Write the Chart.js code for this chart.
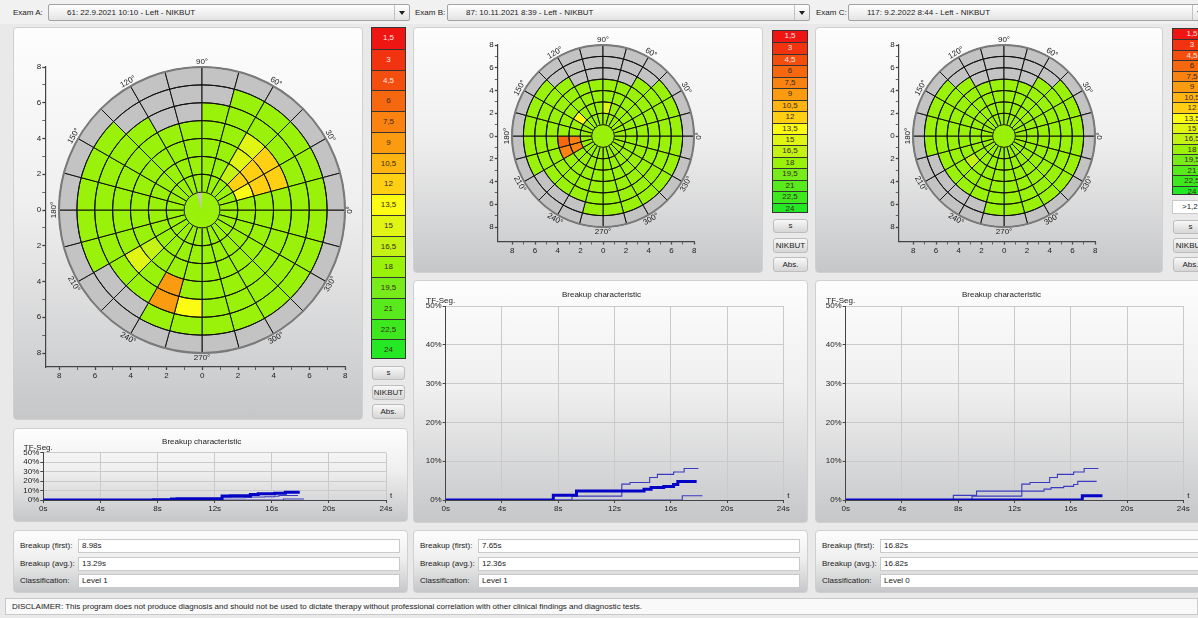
<!DOCTYPE html>
<html>
<head>
<meta charset="utf-8">
<title>Tear film breakup</title>
<script src="https://cdn.jsdelivr.net/npm/chart.js@4.4.1/dist/chart.umd.min.js"></script>
<style>
  html, body { margin: 0; padding: 0; }
  body { position: relative; width: 1198px; height: 618px; overflow: hidden; background: #e9e9e9;
         font-family: "Liberation Sans", Arial, sans-serif; font-size: 8px; color: #1e1e1e; }
  .a { position: absolute; box-sizing: border-box; }
  .topbar { background: #f1f1f1; }
  .txt { white-space: nowrap; line-height: 10px; color: #222; }
  .combo { border: 1px solid #a3a3a3; border-radius: 2px; background: linear-gradient(#fefefe, #e4e4e4); }
  .combo .v { position: absolute; top: 3px; white-space: nowrap; line-height: 10px; color: #1a1a1a; }
  .combo .btn { position: absolute; top: 0; right: 0; width: 14px; height: 15px; border-left: 1px solid #c2c2c2; }
  .combo .btn::after { content: ""; position: absolute; left: 4px; top: 6px; border-left: 3px solid transparent;
         border-right: 3px solid transparent; border-top: 4px solid #1e1e1e; }
  .panel { border: 1px solid #d0d0d0; border-radius: 4px;
         background: linear-gradient(#fdfdfd 0%, #efefef 45%, #c6c7c9 100%); }
  .scale { border: 1px solid #353535; overflow: hidden; }
  .cell { width: 100%; text-align: center; box-sizing: border-box; border-top: 1px solid #353535; white-space: nowrap; }
  .cell:first-child { border-top: none; }
  .button { border: 1px solid #bdbdbd; border-radius: 3px; background: linear-gradient(#f8f8f8, #d6d6d6);
         text-align: center; white-space: nowrap; overflow: hidden; color: #222; }
  .field { border: 1px solid #c9c9c9; background: #fff; padding-left: 3px; line-height: 12px; white-space: nowrap; color: #222; }
  canvas { position: absolute; }
</style>
</head>
<body>
<script>
// ---------- colour scale: breakup time in seconds ----------
const scaleValues = [1.5, 3, 4.5, 6, 7.5, 9, 10.5, 12, 13.5, 15, 16.5, 18, 19.5, 21, 22.5, 24];
const scaleLabels = ['1,5', '3', '4,5', '6', '7,5', '9', '10,5', '12', '13,5', '15', '16,5', '18', '19,5', '21', '22,5', '24'];
const scaleColors = ['#ee1512', '#f1330f', '#f44e0e', '#f6680f', '#f98210', '#fb9b10', '#feb512', '#ffcf14',
                     '#fbfb14', '#e0f514', '#c4f214', '#9af20a', '#78ec1a', '#58ea1c', '#3ee81e', '#24e824'];
const noDataColor = '#c3c3c3';

// ---------- exams ----------
const examNames = ['Exam A:', 'Exam B:', 'Exam C:'];
const examTitles = ['61: 22.9.2021 10:10 - Left - NIKBUT', '87: 10.11.2021 8:39 - Left - NIKBUT', '117: 9.2.2022 8:44 - Left - NIKBUT'];
const breakupFirst = ['8.98s', '7.65s', '16.82s'];
const breakupAvg = ['13.29s', '12.36s', '16.82s'];
const classification = ['Level 1', 'Level 1', 'Level 0'];
const statNames = ['Breakup (first):', 'Breakup (avg.):', 'Classification:'];

// polar sectors, 15° each, counter-clockwise from 0°
const sectorLabels = ['0°', '15°', '30°', '45°', '60°', '75°', '90°', '105°', '120°', '135°', '150°', '165°',
                      '180°', '195°', '210°', '225°', '240°', '255°', '270°', '285°', '300°', '315°', '330°', '345°'];
const angleTicks = [0, 30, 60, 90, 120, 150, 180, 210, 240, 270, 300, 330];
const axisTicks = [-8, -7, -6, -5, -4, -3, -2, -1, 0, 1, 2, 3, 4, 5, 6, 7, 8];

// breakup time per cell (s); null = not measured. centre disc, then rings 1-2 ... 7-8
const aCenter = [18, 18, 18, 18, 18, 18, null, 18, 18, 18, 18, 18, 18, 18, 18, 18, 18, 18, 18, 18, 18, 18, 18, 18];
const aRing2  = [18, 18, 18, 18, 18, 18, 18, 18, 18, 18, 18, 18, 18, 18, 18, 18, 18, 18, 18, 18, 18, 18, 18, 18];
const aRing3  = [18, 13.5, 12, 16.5, 18, 18, 18, 18, 18, 18, 18, 18, 18, 18, 18, 18, 18, 18, 18, 18, 18, 18, 18, 18];
const aRing4  = [18, 12, 12, 15, 18, 18, 18, 18, 18, 18, 18, 18, 18, 18, 16.5, 18, 18, 18, 18, 18, 18, 18, 18, 18];
const aRing5  = [18, 12, 12, 15, 18, 18, 18, 18, 18, 18, 18, 18, 18, 18, 15, 18, 9, 18, 18, 18, 18, 18, 18, 18];
const aRing6  = [18, 18, 18, 18, 18, 18, null, null, 18, 18, 18, 18, 18, 18, 18, 18, 9, 13.5, 18, 18, 18, 18, 18, 18];
const aRing7  = [18, 18, 18, 18, 18, null, null, null, null, 18, 18, 18, 18, 18, null, null, 18, 18, 18, 18, 18, 18, 18, 18];

const bCenter = [18, 18, 18, 18, 18, 18, 18, 18, 18, 18, 18, 18, 18, 18, 18, 18, 18, 18, 18, 18, 18, 18, 18, 18];
const bRing2  = [18, 18, 18, 18, 18, 18, 18, 18, 18, 18, 18, 18, 18, 18, 18, 18, 18, 18, 18, 18, 18, 18, 18, 18];
const bRing3  = [18, 18, 18, 18, 18, 15, 18, 18, 18, 13.5, 18, 18, 7.5, 7.5, 18, 18, 18, 18, 18, 18, 18, 18, 18, 18];
const bRing4  = [18, 18, 18, 18, 18, 18, 18, 18, 18, 18, 18, 18, 6, 7.5, 18, 18, 18, 18, 18, 18, 18, 18, 18, 18];
const bRing5  = [18, 18, 18, 18, 18, 18, 18, 18, 18, 18, 18, 18, 18, 18, 18, 18, 18, 18, 18, 18, 18, 18, 18, 18];
const bRing6  = [18, 18, 18, 18, null, null, null, null, 18, 18, 18, 18, 18, 18, 18, 18, 18, 18, 18, 18, 18, 18, 18, 18];
const bRing7  = [18, 18, 18, null, null, null, null, null, null, 18, 18, 18, 18, 18, null, null, null, 18, 18, 18, 18, 18, 18, 18];

const cCenter = [18, 18, 18, 18, 18, 18, 18, 18, 18, 18, 18, 18, 18, 18, 18, 18, 18, 18, 18, 18, 18, 18, 18, 18];
const cRing2  = [18, 18, 18, 18, 18, 18, 18, 18, 18, 18, 18, 18, 18, 18, 18, 18, 18, 18, 18, 18, 18, 18, 18, 18];
const cRing3  = [18, 18, 18, 18, 18, 18, 18, 18, 18, 18, 18, 18, 18, 18, 18, 18, 18, 18, 18, 18, 18, 18, 18, 18];
const cRing4  = [18, 18, 18, 18, 18, 18, 18, 18, 18, 18, 18, 18, 18, 18, 16.5, 18, 18, 18, 18, 18, 18, 18, 18, 18];
const cRing5  = [18, 18, 18, 18, 18, 18, 18, 18, 18, 18, 18, 18, 18, 18, 18, 18, 18, 18, 18, 18, 18, 18, 18, 18];
const cRing6  = [18, 18, 18, 18, null, null, null, null, 18, 18, 18, 18, 18, 18, 18, 18, 18, 18, 18, 18, 18, 18, 18, 18];
const cRing7  = [18, 18, 18, null, null, null, null, null, null, 18, 18, 18, 18, null, null, null, null, 18, 18, 18, 18, 18, 18, 18];

const outerRing = [null, null, null, null, null, null, null, null, null, null, null, null,
                   null, null, null, null, null, null, null, null, null, null, null, null];

// breakup characteristic: time (s) and share of broken-up segments (%)
const tA = [0, 8.98, 12.52, 13.1, 14.5, 15.05, 16.2, 16.95, 17.96];
const yA = [0, 1.0, 4.1, 4.5, 5.8, 6.6, 7.2, 8.1, 8.1];
const tB = [0, 7.65, 9.3, 14.1, 14.6, 15.5, 16.2, 16.5, 17.84];
const yB = [0, 1.2, 2.3, 2.8, 3.2, 3.5, 4.0, 4.8, 4.8];
const tC = [0, 16.82, 18.25];
const yC = [0, 1.1, 1.1];

const polarRings = [
  [aCenter, aRing2, aRing3, aRing4, aRing5, aRing6, aRing7, outerRing],
  [bCenter, bRing2, bRing3, bRing4, bRing5, bRing6, bRing7, outerRing],
  [cCenter, cRing2, cRing3, cRing4, cRing5, cRing6, cRing7, outerRing],
];
const curves = [[tA, yA], [tB, yB], [tC, yC]];

// ---------- layout ----------
const polarGeo = [
  {cx: 202.3, cy: 210, R: 143, gap: 14},
  {cx: 603.3, cy: 136, R: 91, gap: 14.5},
  {cx: 1004.3, cy: 136, R: 91, gap: 14.5},
];
const breakupGeo = [
  {pl: 13, pt: 428, pw: 395, ph: 94, aL: 43.3, aR: 386, aT: 452.7, aB: 500, titleY: 441.7},
  {pl: 413, pt: 280, pw: 395, ph: 243, aL: 445.7, aR: 783.3, aT: 306, aB: 500, titleY: 295},
  {pl: 815, pt: 280, pw: 383, ph: 243, aL: 845.7, aR: 1183.3, aT: 306, aB: 500, titleY: 295},
];

Chart.defaults.font.family = '"Liberation Sans", Arial, sans-serif';
Chart.defaults.font.size = 8;
Chart.defaults.color = '#222';

function addEl(cls, l, t, w, h, text) {
  const d = document.createElement('div');
  d.className = 'a ' + cls;
  Object.assign(d.style, {left: l + 'px', top: t + 'px', width: w + 'px', height: h + 'px'});
  if (text != null) d.textContent = text;
  document.body.appendChild(d);
  return d;
}
function addCanvas(l, t, w, h) {
  const c = document.createElement('canvas');
  c.width = w; c.height = h;
  Object.assign(c.style, {left: l + 'px', top: t + 'px', width: w + 'px', height: h + 'px'});
  document.body.appendChild(c);
  return c;
}
function colorOf(v) {
  if (v == null) return noDataColor;
  let best = 0;
  scaleValues.forEach((s, i) => { if (Math.abs(s - v) < Math.abs(scaleValues[best] - v)) best = i; });
  return scaleColors[best];
}

// ---------- header bar ----------
addEl('topbar', 0, 0, 1198, 24);
const comboGeo = [[13, 48, 362], [415, 447, 363], [816, 848, 360]];
comboGeo.forEach(([lx, cx, cw], i) => {
  addEl('txt', lx, 8, 34, 10, examNames[i]);
  const c = addEl('combo', cx, 4, cw, 17);
  const v = document.createElement('span'); v.className = 'v'; v.style.left = '18px'; v.textContent = examTitles[i];
  c.appendChild(v);
  const b = document.createElement('span'); b.className = 'btn'; c.appendChild(b);
});

// ---------- panels ----------
addEl('panel', 13, 27, 350, 393);
addEl('panel', 413, 27, 350, 246);
addEl('panel', 815, 27, 348, 246);
breakupGeo.forEach((g) => addEl('panel', g.pl, g.pt, g.pw + (g.pl > 800 ? 10 : 0), g.ph));

// colour legends and buttons
function addScale(l, t, w, cellH) {
  const box = addEl('scale', l, t, w, cellH * 16);
  scaleLabels.forEach((lab, i) => {
    const c = document.createElement('div');
    c.className = 'cell';
    c.style.height = cellH + 'px';
    c.style.lineHeight = (cellH - 1) + 'px';
    c.style.background = scaleColors[i];
    c.style.color = i < 3 ? '#ffe4e0' : '#3a2a10';
    c.textContent = lab;
    box.appendChild(c);
  });
}
addScale(371, 27, 35, 20.75);
addScale(772, 30, 36, 11.45);
addScale(1172, 28, 40, 10.45);
function addButton(l, t, w, h, text) {
  const b = addEl('button', l, t, w, h, text);
  b.style.lineHeight = (h - 2) + 'px';
}
addButton(372, 366, 33, 14, 's'); addButton(372, 385, 33, 15, 'NIKBUT'); addButton(372, 404, 33, 15, 'Abs.');
addButton(773, 219, 35, 14, 's'); addButton(773, 238, 35, 15, 'NIKBUT'); addButton(773, 257, 35, 15, 'Abs.');
const thr = addEl('field', 1172, 200, 40, 14, '>1,2'); thr.style.paddingLeft = '9px';
addButton(1173, 220, 35, 14, 's'); addButton(1173, 238, 35, 15, 'NIKBUT'); addButton(1173, 257, 35, 15, 'Abs.');

// ---------- statistics ----------
const statLeft = [13, 413, 815];
const statVals = [breakupFirst, breakupAvg, classification];
statLeft.forEach((pl, i) => {
  addEl('panel', pl, 530, i === 2 ? 400 : 395, 63);
  statNames.forEach((n, r) => {
    addEl('txt', pl + 7, 541 + r * 17.5, 58, 10, n);
    addEl('field', pl + 65, 539 + r * 17.5, (i === 2 ? 400 : 395) - 73, 14, statVals[r][i]);
  });
});
const disc = addEl('field', 5, 598, 1193, 17,
  'DISCLAIMER: This program does not produce diagnosis and should not be used to dictate therapy without professional correlation with other clinical findings and diagnostic tests.');
disc.style.lineHeight = '15px'; disc.style.paddingLeft = '6px'; disc.style.background = '#f9f9f9';

// ---------- polar maps ----------
const angleLabelPlugin = {
  id: 'angleLabels',
  afterDraw(chart) {
    const s = chart.scales.r;
    const ctx = chart.ctx;
    const rr = s.getDistanceFromCenterForValue(8) + 5;
    ctx.save();
    ctx.font = '8px "Liberation Sans", Arial, sans-serif';
    ctx.fillStyle = '#222';
    ctx.textAlign = 'center';
    ctx.textBaseline = 'middle';
    angleTicks.forEach((a) => {
      const rad = a * Math.PI / 180;
      const x = s.xCenter + Math.cos(rad) * rr;
      const y = s.yCenter - Math.sin(rad) * rr;
      let rot;
      if (a % 180 === 0) rot = -90;
      else if (a < 180) rot = 90 - a;
      else rot = 270 - a;
      ctx.save();
      ctx.translate(x, y);
      ctx.rotate(rot * Math.PI / 180);
      ctx.fillText(a + '°', 0, 0);
      ctx.restore();
    });
    ctx.restore();
  }
};

function buildPolarAxes(g) {
  const unit = g.R / 8;
  const axW = 20, axH = 15, padT = 8, padR = 10;
  const aL = g.cx - g.R - g.gap, aR = g.cx + g.R;
  const aT = g.cy - g.R, aB = g.cy + g.R + g.gap;
  const cL = Math.floor(aL - axW), cT = Math.floor(aT - padT);
  const w = Math.ceil(aR + padR - cL), h = Math.ceil(aB + axH - cT);
  const canvas = addCanvas(cL, cT, w, h);
  const lo = -8 - g.gap / unit;
  const axisOpts = (pos, size) => ({
    type: 'linear', position: pos, min: lo, max: 8,
    afterBuildTicks: (s) => { s.ticks = axisTicks.map((v) => ({value: v})); },
    afterFit: (s) => { if (pos === 'left') s.width = size; else s.height = size; },
    ticks: {autoSkip: false, maxRotation: 0, padding: 1, color: '#222',
            callback: (v) => (v % 2 === 0 ? String(Math.abs(v)) : '')},
    grid: {drawOnChartArea: false, tickLength: 3, tickColor: '#444',
           tickWidth: (c) => (c.tick && c.tick.value % 2 === 0 ? 1.3 : 0.8)},
    border: {color: '#444', width: 1.2},
  });
  const chart = new Chart(canvas, {
    type: 'scatter',
    data: {datasets: []},
    options: {
      responsive: false, animation: false, events: [],
      layout: {padding: {left: aL - axW - cL, top: aT - cT, right: cL + w - aR, bottom: cT + h - aB - axH}},
      plugins: {legend: {display: false}, tooltip: {enabled: false}},
      scales: {x: axisOpts('bottom', axH), y: axisOpts('left', axW)},
    },
  });
  return {chart, cL, cT};
}

function buildPolar(e, ax) {
  const xs = ax.chart.scales.x, ys = ax.chart.scales.y;
  const cx = ax.cL + xs.getPixelForValue(0), cy = ax.cT + ys.getPixelForValue(0);
  const R = xs.getPixelForValue(8) - xs.getPixelForValue(0);
  const half = Math.ceil(R * 1.15);
  const rMax = 8 * half / R;
  const canvas = addCanvas(Math.round(cx - half), Math.round(cy - half), 2 * half, 2 * half);
  // dataset 0 is the centre disc (drawn last, on top); dataset k reaches radius k+1
  const datasets = polarRings[e].map((arr, k) => {
    const cw = sectorLabels.map((_, i) => colorOf(arr[23 - i]));
    return {
      data: sectorLabels.map(() => k + 1),
      backgroundColor: cw,
      borderColor: k === 0 ? cw : '#111111',
      borderWidth: 1,
    };
  });
  const isOuter = (c) => c.tick && Math.abs(c.tick.value - 8) < 0.01;
  new Chart(canvas, {
    type: 'polarArea',
    data: {labels: sectorLabels, datasets},
    options: {
      responsive: false, animation: false, events: [],
      layout: {padding: 0},
      plugins: {legend: {display: false}, tooltip: {enabled: false}},
      scales: {
        r: {
          min: 0, max: rMax, startAngle: 90,
          ticks: {display: false, stepSize: 1},
          angleLines: {display: false},
          pointLabels: {display: false},
          grid: {
            z: 1, circular: true,
            color: (c) => (c.tick && c.tick.value > 8.01 ? 'rgba(0,0,0,0)' : (isOuter(c) ? '#7a7a7a' : '#111111')),
            lineWidth: (c) => (isOuter(c) ? 2 : 1),
          },
        },
      },
    },
    plugins: [angleLabelPlugin],
  });
}

polarGeo.forEach((g, e) => buildPolar(e, buildPolarAxes(g)));

// ---------- breakup characteristic ----------
const axisNotePlugin = {
  id: 'axisNotes',
  afterDraw(chart) {
    const ctx = chart.ctx, a = chart.chartArea;
    ctx.save();
    ctx.font = '8px "Liberation Sans", Arial, sans-serif';
    ctx.fillStyle = '#222';
    ctx.textAlign = 'center';
    ctx.textBaseline = 'alphabetic';
    ctx.fillText('TF-Seg.', a.left - 5, a.top - 3);
    ctx.textAlign = 'left';
    ctx.textBaseline = 'middle';
    ctx.fillText('t', a.right + 4, a.bottom - 4);
    ctx.restore();
  }
};

function buildBreakup(i) {
  const g = breakupGeo[i];
  const yW = 26, xH = 16, th = 9.6;
  const canvas = addCanvas(g.pl, g.pt, g.pw, g.ph);
  const datasets = curves.map(([ts, vs], j) => ({
    data: ts.map((t, n) => ({x: t, y: vs[n]})),
    borderColor: j === i ? '#0404c6' : '#3b3bbf',
    borderWidth: j === i ? 3 : 1.1,
    stepped: true,
    pointRadius: 0,
    fill: false,
    order: j === i ? 0 : 1,
  }));
  const gridOpts = {color: '#cacaca', tickLength: 3, tickColor: '#444'};
  new Chart(canvas, {
    type: 'line',
    data: {datasets},
    options: {
      responsive: false, animation: false, events: [],
      layout: {padding: {left: g.aL - g.pl - yW, right: g.pl + g.pw - g.aR,
                         top: g.titleY - g.pt - th / 2, bottom: g.pt + g.ph - g.aB - xH}},
      plugins: {
        legend: {display: false}, tooltip: {enabled: false},
        title: {display: true, text: 'Breakup characteristic', color: '#222',
                font: {size: 8, weight: 'normal'}, padding: {top: 0, bottom: g.aT - g.titleY - th / 2}},
      },
      scales: {
        x: {type: 'linear', min: 0, max: 24, afterFit: (s) => { s.height = xH; },
            ticks: {stepSize: 4, autoSkip: false, maxRotation: 0, padding: 1, callback: (v) => v + 's'},
            grid: gridOpts, border: {color: '#444'}},
        y: {type: 'linear', min: 0, max: 50, afterFit: (s) => { s.width = yW; },
            ticks: {stepSize: 10, autoSkip: false, padding: 1, callback: (v) => v + '%'},
            grid: gridOpts, border: {color: '#444'}},
      },
    },
    plugins: [axisNotePlugin],
  });
}
[0, 1, 2].forEach(buildBreakup);
</script>
</body>
</html>
